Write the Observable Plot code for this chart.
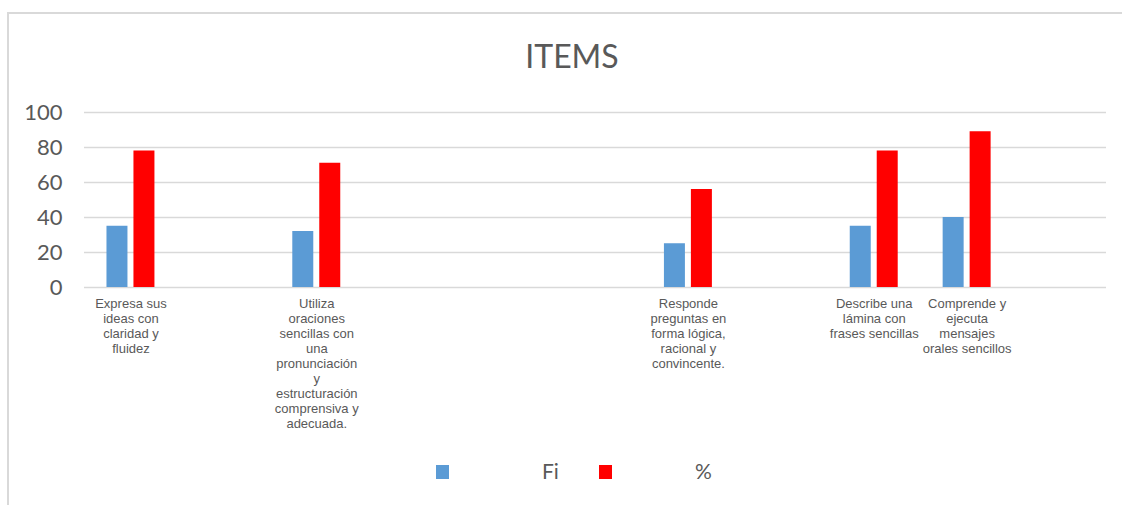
<!DOCTYPE html>
<html>
<head>
<meta charset="utf-8">
<script src="https://cdn.jsdelivr.net/npm/d3@7"></script>
<script src="https://cdn.jsdelivr.net/npm/@observablehq/plot@0.6"></script>
<style>
  html, body { margin: 0; padding: 0; background: #fff; }
  #wrap { position: relative; width: 1122px; height: 505px; overflow: hidden; font-family: "Liberation Sans", Arial, sans-serif; }
  #frame { position: absolute; left: 7px; top: 12px; width: 1200px; height: 600px; border-left: 2px solid #d9d9d9; border-top: 2px solid #d9d9d9; box-sizing: border-box; }
  #title { position: absolute; left: 0; width: 1144px; top: 36px; text-align: center; font-family: Lato, "Open Sans", sans-serif; font-size: 32px; color: #595959; }
  #chart { position: absolute; left: 0; top: 0; }
  .leg { position: absolute; font-family: Lato, "Open Sans", sans-serif; font-size: 21px; color: #595959; }
  .sw { position: absolute; width: 13px; height: 14px; }
</style>
</head>
<body>
<div id="wrap">
  <div id="frame"></div>
  <div id="chart"></div>
  <div id="title">ITEMS</div>
  <div id="legend"></div>
</div>
<script>
// Data
const categories = [
  "Expresa sus\nideas con\nclaridad y\nfluidez",
  "Utiliza\noraciones\nsencillas con\nuna\npronunciación\ny\nestructuración\ncomprensiva y\nadecuada.",
  "Responde\npreguntas en\nforma lógica,\nracional y\nconvincente.",
  "Describe una\nlámina con\nfrases sencillas",
  "Comprende y\nejecuta\nmensajes\norales sencillos"
];
// position of each category on the 11-slot category axis (other slots are empty)
const slots = [0, 2, 6, 8, 9];
const slotCount = 11;
const fi = [35, 32, 25, 35, 40];
const pct = [78, 71, 56, 78, 89];
const seriesNames = ["Fi", "%"];
const seriesColors = ["#5b9bd5", "#ff0000"];
const yTicks = [0, 20, 40, 60, 80, 100];

const W = 1122, H = 440, mL = 84, mR = 16, mT = 112, mB = 153;
const band = (W - mL - mR) / slotCount;
// sub-band scale placing the two series within each category band
const sub = d3.scaleBand().domain(seriesNames).range([0, band]).paddingInner(0.222).paddingOuter(0.833);

const labelOf = new Map(slots.map((s, i) => [s, categories[i]]));
const seriesData = [fi, pct];

const barMarks = seriesNames.map((s, k) => Plot.barY(
  slots.map((slot, i) => ({slot, series: s, value: seriesData[k][i]})),
  {x: "slot", y: "value", fill: "series",
   insetLeft: sub(s), insetRight: band - sub(s) - sub.bandwidth()}
));

const chart = Plot.plot({
  width: W,
  height: H,
  marginLeft: mL,
  marginRight: mR,
  marginTop: mT,
  marginBottom: mB,
  style: {background: "transparent", overflow: "visible"},
  x: {domain: d3.range(slotCount), padding: 0, round: false, axis: null},
  y: {domain: [0, 100], axis: null},
  color: {domain: seriesNames, range: seriesColors},
  marks: [
    Plot.ruleY(yTicks, {stroke: "#d9d9d9", strokeWidth: 1.5}),
    ...barMarks,
    Plot.axisY({ticks: yTicks, tickSize: 0, tickPadding: 22, fontSize: 22, fontFamily: "Lato, 'Open Sans', sans-serif", fill: "#595959", label: null}),
    Plot.axisX({anchor: "bottom", tickSize: 0, tickPadding: 10, fontSize: 13, lineHeight: 1.15, fontFamily: "'Liberation Sans', Arial, sans-serif", fill: "#595959", label: null, tickFormat: d => labelOf.get(d) ?? ""})
  ]
});
document.getElementById("chart").appendChild(chart);

// Legend
const legend = document.getElementById("legend");
const swX = [436, 599];
const txX = [542, 695];
seriesNames.forEach((s, i) => {
  const sw = document.createElement("div");
  sw.className = "sw";
  sw.style.left = swX[i] + "px";
  sw.style.top = "465px";
  sw.style.background = seriesColors[i];
  legend.appendChild(sw);
  const t = document.createElement("div");
  t.className = "leg";
  t.style.left = txX[i] + "px";
  t.style.top = "458px";
  t.textContent = s;
  legend.appendChild(t);
});
</script>
</body>
</html>
